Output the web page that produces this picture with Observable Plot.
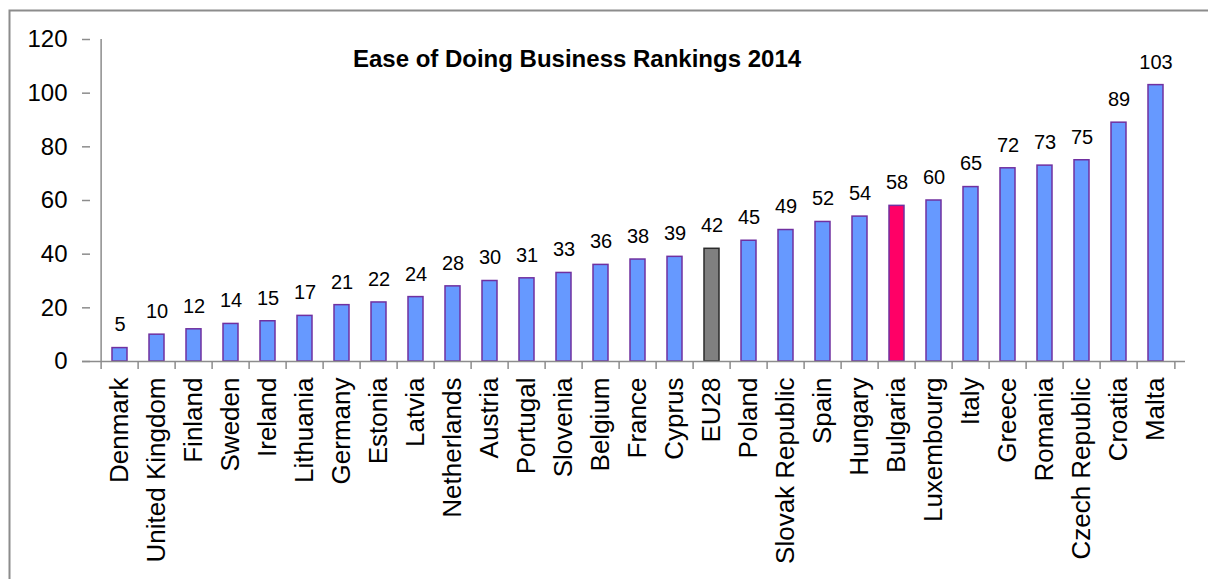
<!DOCTYPE html>
<html>
<head>
<meta charset="utf-8">
<script src="https://cdn.jsdelivr.net/npm/d3@7"></script>
<script src="https://cdn.jsdelivr.net/npm/@observablehq/plot@0.6"></script>
<style>
  html, body { margin: 0; padding: 0; background: #fff; overflow: hidden; }
  #chart svg { display: block; }
</style>
</head>
<body>
<div id="chart"></div>
<script>
const titleText = "Ease of Doing Business Rankings 2014";
const countries = ["Denmark","United Kingdom","Finland","Sweden","Ireland","Lithuania","Germany","Estonia","Latvia","Netherlands","Austria","Portugal","Slovenia","Belgium","France","Cyprus","EU28","Poland","Slovak Republic","Spain","Hungary","Bulgaria","Luxembourg","Italy","Greece","Romania","Czech Republic","Croatia","Malta"];
const rankings = [5,10,12,14,15,17,21,22,24,28,30,31,33,36,38,39,42,45,49,52,54,58,60,65,72,73,75,89,103];
const yTicks = [0,20,40,60,80,100,120];
const highlightFill = {"EU28": "#808080", "Bulgaria": "#FF0066"};
const highlightStroke = {"EU28": "#2b2b2b"};

const data = countries.map((c, i) => ({country: c, value: rankings[i]}));

const W = 1208, H = 579;
const mL = 90, mR = 23, mT = 39, mB = 218;
const half = (W - mL - mR) / countries.length / 2;
const font = "'Liberation Sans', Arial, Helvetica, sans-serif";

const chart = Plot.plot({
  width: W,
  height: H,
  marginLeft: mL,
  marginRight: mR,
  marginTop: mT,
  marginBottom: mB,
  style: {fontFamily: font, background: "white", color: "black", overflow: "visible"},
  x: {domain: countries, padding: 0, label: null},
  y: {domain: [0, 120], label: null},
  marks: [
    Plot.axisY({ticks: yTicks, tickSize: 8, tickPadding: 15, fontSize: 24, stroke: "#8c8c8c", strokeWidth: 1.5, fill: "black", label: null}),
    Plot.axisX({tickSize: 0, tickRotate: -90, tickPadding: 16, fontSize: 26, fill: "black", label: null}),
    Plot.barY(data, {
      x: "country", y: "value",
      insetLeft: 11, insetRight: 11,
      fill: d => highlightFill[d.country] || "#6699FF",
      stroke: d => highlightStroke[d.country] || "#7030A0",
      strokeWidth: 1.5
    }),
    Plot.ruleY([0], {stroke: "#8c8c8c", strokeWidth: 1.5, insetLeft: -8}),
    Plot.ruleX([countries[0]], {y1: -3, y2: 120, dx: -half, stroke: "#8c8c8c", strokeWidth: 1.5}),
    Plot.ruleX(countries.slice(1), {y1: -3, y2: 0, dx: -half, stroke: "#8c8c8c", strokeWidth: 1.5}),
    Plot.ruleX([countries[countries.length - 1]], {y1: -3, y2: 0, dx: half, stroke: "#8c8c8c", strokeWidth: 1.5}),
    Plot.text(data, {x: "country", y: "value", text: d => String(d.value), dy: -23, fontSize: 20, fill: "black"}),
    Plot.text([titleText], {frameAnchor: "top", dx: -61, dy: 10, fontSize: 24, fontWeight: "bold", fill: "black"})
  ]
});

d3.select(chart).append("path")
  .attr("d", `M9.5,${H + 5}V10.5H${W + 5}`)
  .attr("fill", "none")
  .attr("stroke", "#8c8c8c")
  .attr("stroke-width", 2);

document.getElementById("chart").append(chart);
</script>
</body>
</html>
